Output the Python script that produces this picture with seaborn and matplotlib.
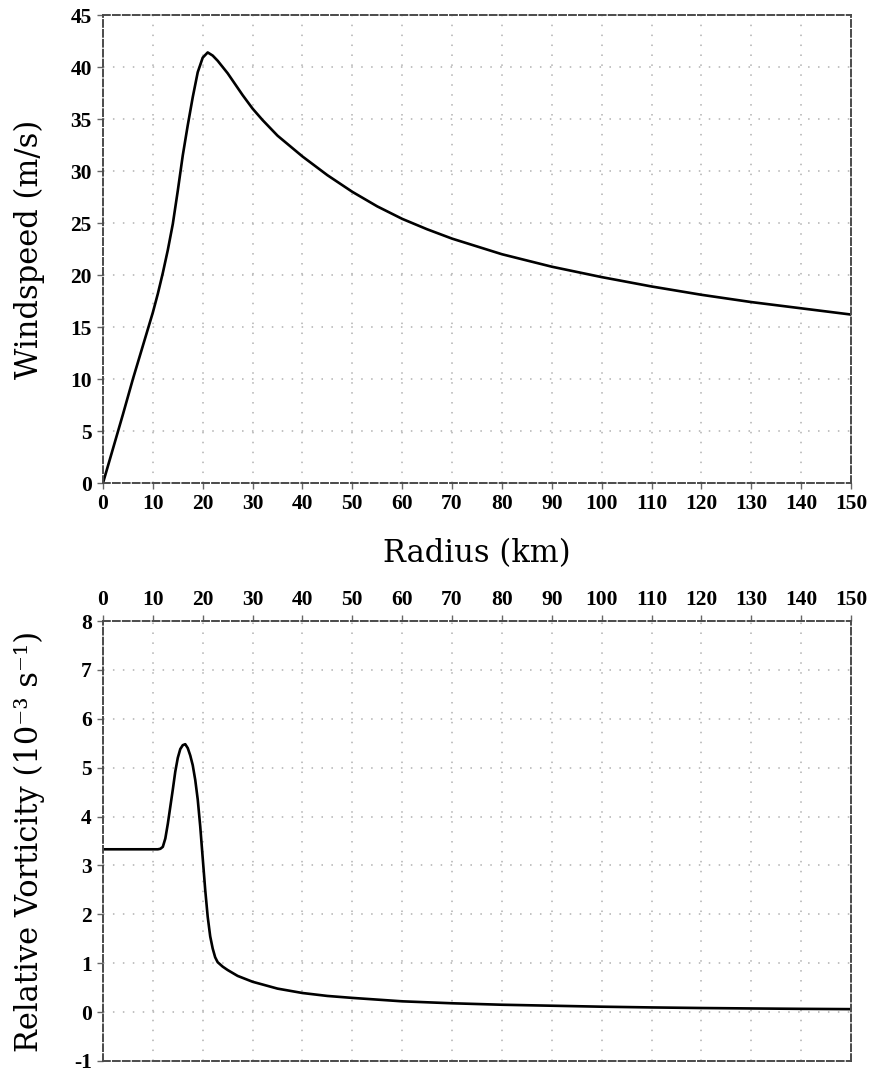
import matplotlib
matplotlib.use("Agg")
import matplotlib.pyplot as plt
import seaborn as sns
import pandas as pd

# Tangential wind profile (km, m/s)
radius_wind = [0, 2, 4, 6, 8, 10, 11, 12, 13, 14, 15, 16, 17, 18, 19, 20, 21,
               22, 23, 24, 25, 26, 28, 30, 32, 35, 40, 45, 50, 55, 60, 65, 70,
               80, 90, 100, 110, 120, 130, 140, 150]
windspeed = [0.0, 3.3, 6.6, 10.0, 13.2, 16.4, 18.2, 20.2, 22.4, 24.9, 28.1,
             31.5, 34.4, 37.1, 39.5, 40.9, 41.4, 41.1, 40.6, 40.0, 39.4, 38.7,
             37.3, 36.0, 34.9, 33.4, 31.4, 29.6, 28.0, 26.6, 25.4, 24.4, 23.5,
             22.0, 20.8, 19.8, 18.9, 18.1, 17.4, 16.8, 16.2]

# Relative vorticity profile (km, 1e-3 s^-1)
radius_vort = [0, 5, 10, 11, 11.5, 12, 12.5, 13, 13.5, 14, 14.5, 15, 15.5, 16,
               16.5, 17, 17.5, 18, 18.5, 19, 19.5, 20, 20.5, 21, 21.5, 22,
               22.5, 23, 24, 25, 27, 30, 35, 40, 45, 50, 60, 70, 80, 90, 100,
               110, 120, 130, 140, 150]
vorticity = [3.33, 3.33, 3.33, 3.33, 3.34, 3.38, 3.55, 3.85, 4.2, 4.55, 4.92,
             5.2, 5.38, 5.46, 5.48, 5.4, 5.25, 5.05, 4.75, 4.35, 3.8, 3.15,
             2.5, 1.95, 1.55, 1.3, 1.12, 1.02, 0.93, 0.86, 0.74, 0.62, 0.48,
             0.39, 0.33, 0.29, 0.22, 0.18, 0.15, 0.13, 0.11, 0.095, 0.083,
             0.074, 0.066, 0.06]

x_ticks = list(range(0, 151, 10))
wind_ticks = list(range(0, 46, 5))
vort_ticks = list(range(-1, 9))

wind_df = pd.DataFrame({"radius": radius_wind, "wind": windspeed})
vort_df = pd.DataFrame({"radius": radius_vort, "vort": vorticity})

sns.set_theme(style="white")
plt.rcParams["font.family"] = ["Liberation Serif", "DejaVu Serif"]
plt.rcParams["axes.unicode_minus"] = False
plt.rcParams["text.color"] = "black"
plt.rcParams["axes.labelcolor"] = "black"

fig = plt.figure(figsize=(8.69, 10.72), dpi=100)
ax1 = fig.add_axes([0.1185, 0.5494, 0.8608, 0.4366])
ax2 = fig.add_axes([0.1185, 0.0103, 0.8608, 0.4104])

label_font = {"family": ["DejaVu Serif"], "size": 22, "color": "black"}
frame_color = "#4a4a4a"
grid_kw = dict(color="#b0b0b0", linestyle=(0, (1, 5.5)), linewidth=1.1)


def style_axes(ax, top_ticks=False):
    for sp in ax.spines.values():
        sp.set_visible(True)
        sp.set_color(frame_color)
        sp.set_linewidth(1.4)
        sp.set_linestyle((0, (3.5, 1.6)))
    ax.grid(True, **grid_kw)
    ax.set_axisbelow(True)
    ax.tick_params(axis="both", which="major", direction="out", length=4,
                   width=1.0, color="#666666", labelsize=15.5,
                   labelcolor="black", pad=4)
    if top_ticks:
        ax.xaxis.tick_top()
        ax.xaxis.set_label_position("top")
    else:
        ax.xaxis.tick_bottom()
    ax.yaxis.tick_left()


sns.lineplot(data=wind_df, x="radius", y="wind", ax=ax1, color="black",
             linewidth=1.9)
ax1.set_xlim(0, 150)
ax1.set_ylim(0, 45)
ax1.set_xticks(x_ticks)
ax1.set_yticks(wind_ticks)
style_axes(ax1)
ax1.set_xlabel("Radius (km)", fontdict=label_font)
ax1.set_ylabel("Windspeed (m/s)", fontdict=label_font)
ax1.xaxis.set_label_coords(0.5, -0.117)
ax1.yaxis.set_label_coords(-0.078, 0.5)

sns.lineplot(data=vort_df, x="radius", y="vort", ax=ax2, color="black",
             linewidth=1.9)
ax2.set_xlim(0, 150)
ax2.set_ylim(-1, 8)
ax2.set_xticks(x_ticks)
ax2.set_yticks(vort_ticks)
style_axes(ax2, top_ticks=True)
ax2.set_xlabel("")
ax2.set_ylabel("Relative Vorticity (10\u207b\u00b3 s\u207b\u00b9)",
               fontdict=label_font)
ax2.yaxis.set_label_coords(-0.078, 0.5)

for ax in (ax1, ax2):
    for lab in ax.get_xticklabels() + ax.get_yticklabels():
        lab.set_fontweight("bold")

fig.savefig("out.png", dpi=100)
